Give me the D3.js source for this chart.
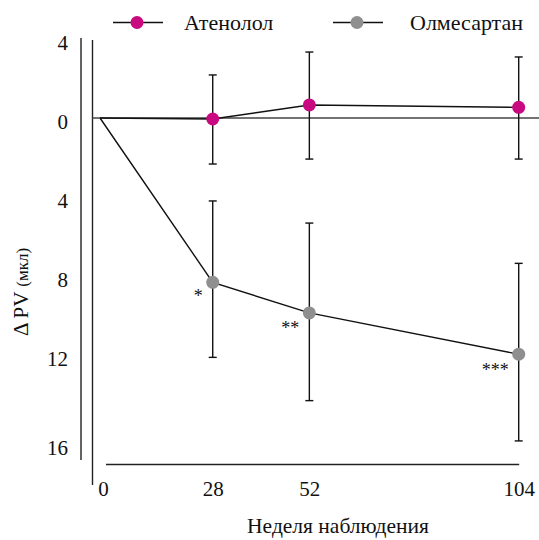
<!DOCTYPE html>
<html>
<head>
<meta charset="utf-8">
<script src="https://cdn.jsdelivr.net/npm/d3@7"></script>
<style>
  body { margin: 0; background: #fff; }
  svg text { font-family: "Liberation Serif", "Times New Roman", Times, "DejaVu Serif", serif; fill: #111; }
</style>
</head>
<body>
<div id="chart"></div>
<script>
// weeks of follow-up
const weeks = [0, 28, 52, 104];
const xTicks = [0, 28, 52, 104];
const yTicks = [4, 0, -4, -8, -12, -16];

const seriesNames = ['Атенолол', 'Олмесартан'];
const seriesColors = ['#c8097f', '#8f8f8f'];

// change in PV, positive = up
const atenolol = [0, -0.05, 0.66, 0.54];
const atenololLow = [null, -2.33, -2.08, -2.08];
const atenololHigh = [null, 2.18, 3.34, 3.09];

const olmesartan = [0, -8.32, -9.87, -11.96];
const olmesartanLow = [null, -12.12, -14.31, -16.35];
const olmesartanHigh = [null, -4.2, -5.32, -7.36];
const olmesartanStars = ['', '*', '**', '***'];

const width = 539, height = 540;
const serif = '"Liberation Serif", "Times New Roman", Times, "DejaVu Serif", serif';

const svg = d3.select('#chart').append('svg')
    .attr('width', width)
    .attr('height', height)
    .attr('font-family', serif);

const x = d3.scaleLinear().domain([0, 104]).range([100, 518.7]);
const y = d3.scaleLinear().domain([4, -16]).range([39, 434]);

// frame lines
svg.append('line')
    .attr('x1', 81).attr('x2', 81)
    .attr('y1', y(4) - 1).attr('y2', 460)
    .attr('stroke', '#222').attr('stroke-width', 1.4);
svg.append('line')
    .attr('x1', 92.5).attr('x2', 92.5)
    .attr('y1', y(4) + 1).attr('y2', 485)
    .attr('stroke', '#222').attr('stroke-width', 1.4);
svg.append('line')
    .attr('x1', 92.5).attr('x2', width)
    .attr('y1', y(0)).attr('y2', y(0))
    .attr('stroke', '#444').attr('stroke-width', 1.7);
svg.append('line')
    .attr('x1', 106).attr('x2', x(104) + 0.5)
    .attr('y1', 464.5).attr('y2', 464.5)
    .attr('stroke', '#222').attr('stroke-width', 1.4);

// y tick labels
const yAxis = svg.append('g')
    .attr('transform', 'translate(68,0)')
    .call(d3.axisLeft(y).tickValues(yTicks).tickSize(0).tickPadding(0)
        .tickFormat(d => Math.abs(d)));
yAxis.attr('font-family', serif).attr('font-size', 21);
yAxis.select('.domain').remove();
yAxis.selectAll('text')
    .attr('dy', d => d === -16 ? 20 : 10);

// x tick labels
const xAxis = svg.append('g')
    .call(d3.axisBottom(x).tickValues(xTicks).tickSize(0).tickPadding(0));
xAxis.attr('font-family', serif).attr('font-size', 21);
xAxis.select('.domain').remove();
xAxis.selectAll('text')
    .attr('y', 496)
    .attr('dy', 0)
    .attr('dx', d => d === 0 ? 3 : 0);

// axis titles
svg.append('text')
    .attr('x', 338).attr('y', 533)
    .attr('text-anchor', 'middle')
    .attr('font-size', 21.5)
    .text('Неделя наблюдения');

const yTitle = svg.append('text')
    .attr('transform', 'translate(28,292) rotate(-90)')
    .attr('text-anchor', 'middle');
yTitle.append('tspan').attr('font-size', 21).text('Δ PV ');
yTitle.append('tspan').attr('font-size', 17).text('(мкл)');

const line = d3.line()
    .x((d, i) => x(weeks[i]))
    .y(d => y(d));

const series = [
    { values: atenolol, low: atenololLow, high: atenololHigh, color: seriesColors[0], stars: null },
    { values: olmesartan, low: olmesartanLow, high: olmesartanHigh, color: seriesColors[1], stars: olmesartanStars }
];

series.forEach(s => {
    svg.append('path')
        .attr('d', line(s.values))
        .attr('fill', 'none')
        .attr('stroke', '#111')
        .attr('stroke-width', 1.4);

    const idx = d3.range(1, weeks.length);
    const eb = svg.append('g').attr('stroke', '#111').attr('stroke-width', 1.4);
    eb.selectAll('.bar').data(idx).enter().append('line')
        .attr('x1', i => x(weeks[i])).attr('x2', i => x(weeks[i]))
        .attr('y1', i => y(s.high[i])).attr('y2', i => y(s.low[i]));
    eb.selectAll('.capTop').data(idx).enter().append('line')
        .attr('x1', i => x(weeks[i]) - 4).attr('x2', i => x(weeks[i]) + 4)
        .attr('y1', i => y(s.high[i])).attr('y2', i => y(s.high[i]));
    eb.selectAll('.capBot').data(idx).enter().append('line')
        .attr('x1', i => x(weeks[i]) - 4).attr('x2', i => x(weeks[i]) + 4)
        .attr('y1', i => y(s.low[i])).attr('y2', i => y(s.low[i]));

    svg.append('g').selectAll('circle').data(idx).enter().append('circle')
        .attr('cx', i => x(weeks[i]))
        .attr('cy', i => y(s.values[i]))
        .attr('r', 6.5)
        .attr('fill', s.color);

    if (s.stars) {
        svg.append('g').selectAll('text').data(idx).enter().append('text')
            .attr('x', i => x(weeks[i]) - 10)
            .attr('y', i => y(s.values[i]) + 19 + i)
            .attr('text-anchor', 'end')
            .attr('font-size', 18)
            .text(i => s.stars[i]);
    }
});

// legend
const legendX = [113, 333];
seriesNames.forEach((name, i) => {
    const g = svg.append('g').attr('transform', `translate(${legendX[i]},22.5)`);
    g.append('line').attr('x1', 0).attr('x2', 50)
        .attr('stroke', '#111').attr('stroke-width', 1.4);
    g.append('circle').attr('cx', 24).attr('r', 6.5).attr('fill', seriesColors[i]);
    g.append('text').attr('x', i === 0 ? 71 : 77).attr('y', 7)
        .attr('font-size', 22).text(name);
});
</script>
</body>
</html>
